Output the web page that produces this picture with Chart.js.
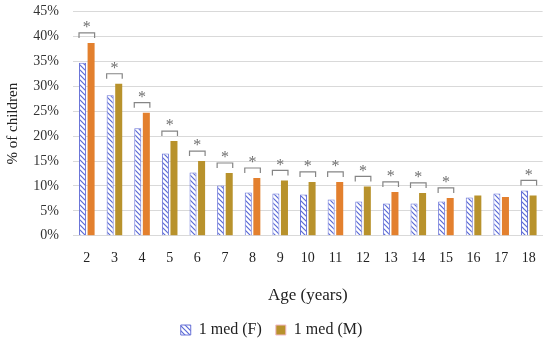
<!DOCTYPE html>
<html><head><meta charset="utf-8">
<script src="https://cdn.jsdelivr.net/npm/chart.js@4"></script>
<style>html,body{margin:0;padding:0;background:#fff}#wrap{width:550px;height:344px}</style>
</head><body><div id="wrap"><canvas id="c" width="550" height="344"></canvas></div>
<script>
const ages = ['2','3','4','5','6','7','8','9','10','11','12','13','14','15','16','17','18'];
const femaleValues = [34.7,28.2,21.6,16.5,12.7,10.1,8.7,8.5,8.3,7.3,6.9,6.5,6.5,6.9,7.7,8.5,9.1];
const maleValues = [38.7,30.5,24.7,19.0,15.0,12.6,11.6,11.1,10.8,10.8,9.9,8.8,8.6,7.6,8.1,7.8,8.1];
const significant = [1,1,1,1,1,1,1,1,1,1,1,1,1,1,0,0,1];
const yTicks = [0,5,10,15,20,25,30,35,40,45];

const SERIF = "'Liberation Serif', 'DejaVu Serif', serif";
const GOLD = '#b8922c', ORANGE = '#e3802e';
const maleColors = [ORANGE,GOLD,ORANGE,GOLD,GOLD,GOLD,ORANGE,GOLD,GOLD,ORANGE,GOLD,ORANGE,GOLD,ORANGE,GOLD,ORANGE,GOLD];

function hatch(){
  const p = document.createElement('canvas'); p.width = 5; p.height = 5;
  const g = p.getContext('2d');
  g.fillStyle = '#ffffff'; g.fillRect(0,0,5,5);
  g.strokeStyle = '#5a6ad6'; g.lineWidth = 1.2;
  g.beginPath();
  g.moveTo(-1,-1); g.lineTo(6,6);
  g.moveTo(-1,4); g.lineTo(1,6);
  g.moveTo(4,-1); g.lineTo(6,1);
  g.stroke();
  return document.getElementById('c').getContext('2d').createPattern(p,'repeat');
}

const sigPlugin = {
  id: 'sig',
  afterDatasetsDraw(chart){
    const ctx = chart.ctx;
    const m0 = chart.getDatasetMeta(0), m1 = chart.getDatasetMeta(1);
    ctx.save();
    ctx.strokeStyle = '#858585'; ctx.lineWidth = 1.2;
    ctx.fillStyle = '#6f6f6f';
    ctx.font = "16px " + SERIF;
    ctx.textAlign = 'center'; ctx.textBaseline = 'middle';
    significant.forEach((s,i)=>{
      if(!s) return;
      const a = m0.data[i], b = m1.data[i];
      const x1 = a.x - a.width/2, x2 = b.x + b.width/2;
      const top = Math.min(a.y, b.y) - 10;
      ctx.beginPath();
      ctx.moveTo(x1, top+5); ctx.lineTo(x1, top); ctx.lineTo(x2, top); ctx.lineTo(x2, top+5);
      ctx.stroke();
      ctx.fillText('*', (x1+x2)/2, top-5);
    });
    ctx.restore();
  }
};

new Chart(document.getElementById('c'), {
  type: 'bar',
  data: {
    labels: ages,
    datasets: [
      {label:'1 med (F)', data: femaleValues, backgroundColor: hatch(), borderColor:'#6a74d8', borderWidth:1},
      {label:'1 med (M)', data: maleValues, backgroundColor: maleColors, borderWidth:0}
    ]
  },
  options: {
    responsive:false, animation:false,
    layout:{padding:{top:0,right:7,left:0,bottom:0}},
    datasets:{bar:{categoryPercentage:0.62, barPercentage:0.82}},
    scales:{
      x:{
        grid:{display:false, drawTicks:false},
        border:{color:'#d9d9d9'},
        ticks:{color:'#222', font:{family:SERIF,size:14}, padding:14},
        title:{display:true, text:'Age (years)', color:'#222', font:{family:SERIF,size:17}, padding:{top:5,bottom:2}}
      },
      y:{
        min:0, max:45,
        afterBuildTicks(s){ s.ticks = yTicks.map(v=>({value:v})); },
        afterFit(s){ s.width = 73; s.paddingTop = 11.5; },
        grid:{color:'#d9d9d9', lineWidth:1, drawTicks:false},
        border:{display:false},
        ticks:{color:'#333', font:{family:SERIF,size:14}, padding:14, callback:v=>v+'%'},
        title:{display:true, text:'% of children', color:'#222', font:{family:SERIF,size:15}, padding:{bottom:4}}
      }
    },
    plugins:{
      legend:{position:'bottom', maxHeight:36, labels:{
        font:{family:SERIF,size:16}, color:'#222', boxWidth:10, boxHeight:10, padding:14,
        generateLabels(chart){
          const items = Chart.defaults.plugins.legend.labels.generateLabels(chart);
          items[1].fillStyle = GOLD; items[1].strokeStyle = '#f2b8c6'; items[1].lineWidth = 1;
          return items;
        }
      }},
      tooltip:{enabled:false}
    }
  },
  plugins:[sigPlugin]
});
</script></body></html>
